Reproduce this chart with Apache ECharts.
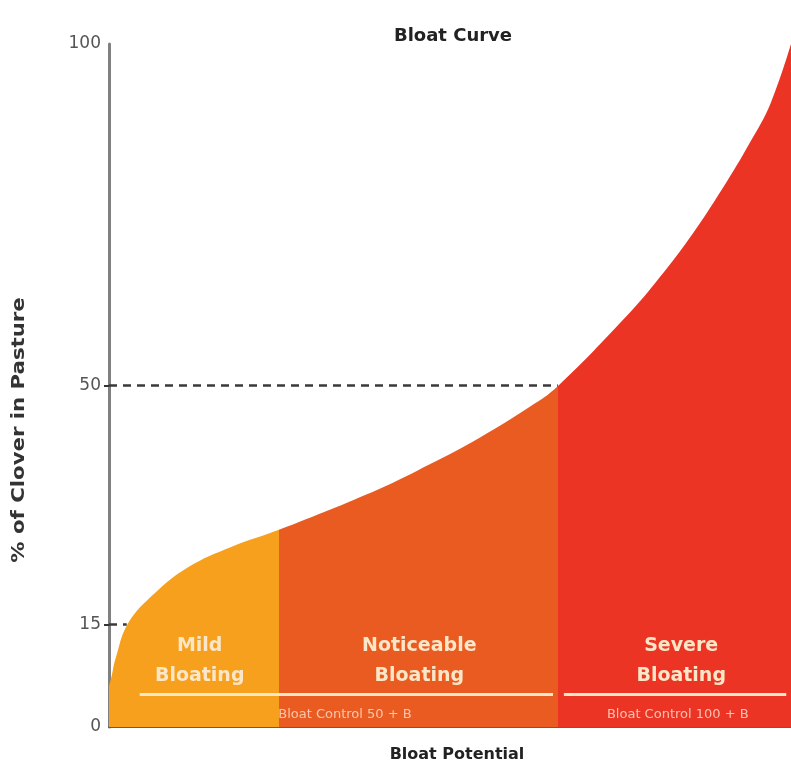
<!DOCTYPE html>
<html>
<head>
<meta charset="utf-8">
<script src="https://cdn.jsdelivr.net/npm/echarts@6/dist/echarts.min.js"></script>
<style>html,body{margin:0;padding:0;background:#fff;}#c{width:791px;height:764px;}</style>
</head>
<body>
<div id="c"></div>
<script>
// Curve of % clover vs bloat potential (x: 0-100 bloat potential, y: % clover)
var curveX = [0, 0.4, 0.9, 2.8, 6.7, 11.6, 18.0, 25.0, 39.7, 47.1, 54.4, 61.7, 65.8, 76.0, 80.0, 85.0, 90.0, 94.0, 97.0, 100];
var curveY = [6, 7.5, 9.8, 15.2, 19.6, 23.4, 26.4, 28.9, 34.9, 38.5, 42.4, 46.9, 49.9, 60.3, 64.9, 71.4, 78.9, 85.6, 91.3, 100];
// Zone boundaries on the bloat-potential axis
var zoneBounds = [0, 25.0, 65.8, 100];
var zoneNames = ['Mild Bloating', 'Noticeable Bloating', 'Severe Bloating'];
var zoneLabels = ['Mild\nBloating', 'Noticeable\nBloating', 'Severe\nBloating'];
var zoneColors = ['#F6A01D', '#E95B21', '#EB3424'];
var yTickValues = [0, 15, 50, 100];
var controlLabels = ['Bloat Control 50 + B', 'Bloat Control 100 + B'];

var font = 'DejaVu Sans, Liberation Sans, Arial, sans-serif';
var cream = '#FCE6C8';

var curveData = curveX.map(function (x, i) { return [x, curveY[i]]; });

// hard-stop horizontal gradient so the zones have vertical edges under one smooth curve
var xMin = zoneBounds[0], xMax = zoneBounds[zoneBounds.length - 1];
var stops = [];
for (var z = 0; z < zoneColors.length; z++) {
  stops.push({ offset: (zoneBounds[z] - xMin) / (xMax - xMin), color: zoneColors[z] });
  stops.push({ offset: (zoneBounds[z + 1] - xMin) / (xMax - xMin), color: zoneColors[z] });
}
var areaFill = new echarts.graphic.LinearGradient(0, 0, 1, 0, stops, false);

function labelPoint(x, y, text, size, color, lh, weight) {
  return {
    coord: [x, y],
    symbol: 'circle',
    symbolSize: 1,
    itemStyle: { color: 'rgba(0,0,0,0)' },
    label: {
      show: true, position: 'inside', formatter: text,
      color: color, fontSize: size, fontWeight: weight, fontFamily: font,
      lineHeight: lh, align: 'center', verticalAlign: 'middle'
    }
  };
}

var series = [{
  type: 'line',
  name: 'Bloat Curve',
  data: curveData,
  smooth: 0.4,
  showSymbol: false,
  symbol: 'none',
  lineStyle: { width: 0 },
  areaStyle: { color: areaFill, opacity: 1 },
  silent: true,
  z: 2,
  markLine: {
    silent: true,
    symbol: ['none', 'none'],
    label: { show: false },
    emphasis: { disabled: true },
    data: [
      [{ coord: [0, 50], lineStyle: { color: '#3a3a3a', width: 2.5, type: [8, 6] } }, { coord: [65.8, 50] }],
      [{ coord: [0, 15], lineStyle: { color: '#3a3a3a', width: 2.5, type: [8, 6] } }, { coord: [2.6, 15] }],
      [{ coord: [4.5, 4.8], lineStyle: { color: cream, width: 3, type: 'solid' } }, { coord: [65.1, 4.8] }],
      [{ coord: [66.7, 4.8], lineStyle: { color: cream, width: 3, type: 'solid' } }, { coord: [99.3, 4.8] }]
    ]
  },
  markPoint: {
    silent: true,
    data: [
      labelPoint(13.3, 9.6, zoneLabels[0], 19, cream, 30, 'bold'),
      labelPoint(45.5, 9.6, zoneLabels[1], 19, cream, 30, 'bold'),
      labelPoint(83.9, 9.6, zoneLabels[2], 19, cream, 30, 'bold'),
      labelPoint(34.6, 1.75, controlLabels[0], 13, 'rgba(255,215,195,0.85)', 14, 'normal'),
      labelPoint(83.4, 1.75, controlLabels[1], 13, 'rgba(255,215,200,0.85)', 14, 'normal')
    ]
  }
}];

var option = {
  backgroundColor: '#ffffff',
  animation: false,
  textStyle: { fontFamily: font },
  title: [
    { text: 'Bloat Curve', left: 448, top: 22, textAlign: 'center',
      textStyle: { fontSize: 18, fontWeight: 'bold', color: '#222', fontFamily: font } },
    { text: 'Bloat Potential', left: 452, top: 742, textAlign: 'center',
      textStyle: { fontSize: 16, fontWeight: 'bold', color: '#222', fontFamily: font } }
  ],
  grid: { left: 109, right: 0, top: 44, bottom: 37, containLabel: false },
  xAxis: {
    type: 'value', min: 0, max: 100,
    axisLine: { show: true, lineStyle: { color: '#6e5a48', width: 2 } },
    axisTick: { show: false },
    axisLabel: { show: false },
    splitLine: { show: false }
  },
  yAxis: {
    type: 'value', min: 0, max: 100,
    axisLine: { show: true, lineStyle: { color: '#808080', width: 3 } },
    axisTick: { show: true, customValues: [15, 50], length: 5, lineStyle: { color: '#333', width: 2 } },
    axisLabel: { show: true, customValues: yTickValues, color: '#555', fontSize: 17, margin: 8, fontFamily: font },
    splitLine: { show: false }
  },
  graphic: [
    { type: 'text', x: 20, y: 430, rotation: Math.PI / 2, scaleX: 1.25, scaleY: 1,
      style: { text: '% of Clover in Pasture', fill: '#333', font: 'bold 17px ' + font,
               textAlign: 'center', textVerticalAlign: 'middle' } }
  ],
  series: series
};

var chart = echarts.init(document.getElementById('c'), null, { renderer: 'canvas' });
chart.setOption(option);
</script>
</body>
</html>
